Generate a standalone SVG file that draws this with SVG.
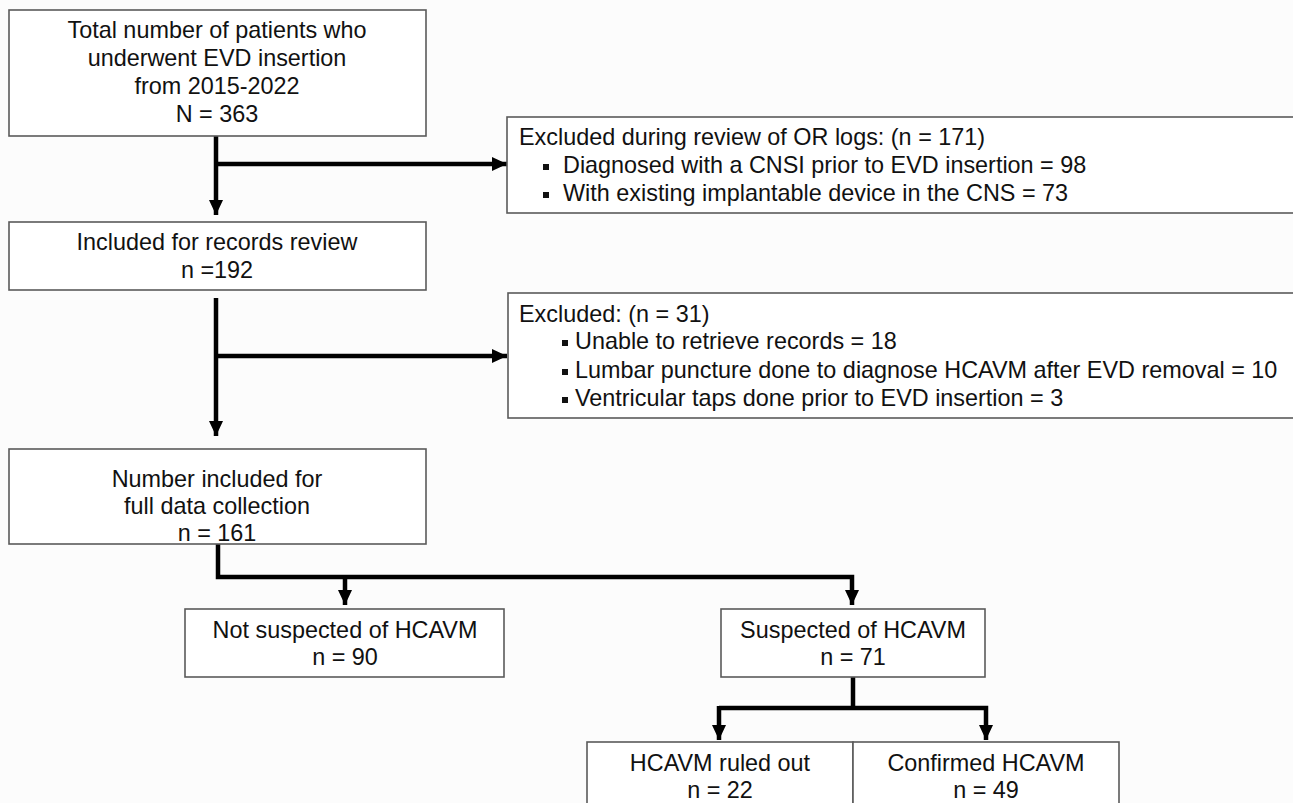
<svg xmlns="http://www.w3.org/2000/svg" width="1293" height="803" viewBox="0 0 1293 803">
  <style>
    .box { fill: #ffffff; stroke: #5a5a5a; stroke-width: 1.6; }
    .t { font-family: "Liberation Sans", Arial, sans-serif; font-size: 23.4px; fill: #111111; }
    .c { text-anchor: middle; }
    .con { fill: none; stroke: #000000; stroke-width: 4.5; }
    .bul { fill: #111111; }
  </style>
  <defs>
    <marker id="ah" markerUnits="userSpaceOnUse" markerWidth="16" markerHeight="14" refX="15" refY="7" orient="auto">
      <path d="M0,0 L15,7 L0,14 Z" fill="#000000"/>
    </marker>
  </defs>
  <rect x="0" y="0" width="1293" height="803" fill="#fcfcfc"/>

  <g id="connectors">
    <path class="con" d="M216 136 V215" marker-end="url(#ah)"/>
    <path class="con" d="M216 164 H507" marker-end="url(#ah)"/>
    <path class="con" d="M216 298 V436" marker-end="url(#ah)"/>
    <path class="con" d="M216 356 H507" marker-end="url(#ah)"/>
    <path class="con" d="M218 544 V577 H852 V605" marker-end="url(#ah)"/>
    <path class="con" d="M345 577 V605" marker-end="url(#ah)"/>
    <path class="con" d="M853 677 V708"/>
    <path class="con" d="M719 708 H986 V740" marker-end="url(#ah)"/>
    <path class="con" d="M719 706 V740" marker-end="url(#ah)"/>
  </g>

  <g id="total">
    <rect class="box" x="9" y="10" width="417" height="126"/>
    <text class="t c" x="217" y="38">Total number of patients who</text>
    <text class="t c" x="217" y="66">underwent EVD insertion</text>
    <text class="t c" x="217" y="94">from 2015-2022</text>
    <text class="t c" x="217" y="122">N = 363</text>
  </g>

  <g id="excluded-or">
    <rect class="box" x="507" y="117" width="800" height="96"/>
    <text class="t" x="519" y="145">Excluded during review of OR logs: (n = 171)</text>
    <rect class="bul" x="543" y="164" width="6" height="6"/>
    <text class="t" x="563" y="173">Diagnosed with a CNSI prior to EVD insertion = 98</text>
    <rect class="bul" x="543" y="192" width="6" height="6"/>
    <text class="t" x="563" y="201">With existing implantable device in the CNS = 73</text>
  </g>

  <g id="included">
    <rect class="box" x="9" y="222" width="417" height="68"/>
    <text class="t c" x="217" y="250">Included for records review</text>
    <text class="t c" x="217" y="278">n =192</text>
  </g>

  <g id="excluded-records">
    <rect class="box" x="508" y="293" width="800" height="125"/>
    <text class="t" x="519" y="322">Excluded: (n = 31)</text>
    <rect class="bul" x="562" y="340" width="6" height="6"/>
    <text class="t" x="575" y="349">Unable to retrieve records = 18</text>
    <rect class="bul" x="562" y="369" width="6" height="6"/>
    <text class="t" x="575" y="378">Lumbar puncture done to diagnose HCAVM after EVD removal = 10</text>
    <rect class="bul" x="562" y="397" width="6" height="6"/>
    <text class="t" x="575" y="406">Ventricular taps done prior to EVD insertion = 3</text>
  </g>

  <g id="full-data">
    <rect class="box" x="9" y="449" width="417" height="95"/>
    <text class="t c" x="217" y="487">Number included for</text>
    <text class="t c" x="217" y="514">full data collection</text>
    <text class="t c" x="217" y="541">n = 161</text>
  </g>

  <g id="not-suspected">
    <rect class="box" x="185" y="609" width="319" height="68"/>
    <text class="t c" x="345" y="638">Not suspected of HCAVM</text>
    <text class="t c" x="345" y="665">n = 90</text>
  </g>

  <g id="suspected">
    <rect class="box" x="721" y="609" width="264" height="68"/>
    <text class="t c" x="853" y="638">Suspected of HCAVM</text>
    <text class="t c" x="853" y="665">n = 71</text>
  </g>

  <g id="ruled-out">
    <rect class="box" x="587" y="742" width="266" height="90"/>
    <text class="t c" x="720" y="771">HCAVM ruled out</text>
    <text class="t c" x="720" y="798">n = 22</text>
  </g>

  <g id="confirmed">
    <rect class="box" x="853" y="742" width="266" height="90"/>
    <text class="t c" x="986" y="771">Confirmed HCAVM</text>
    <text class="t c" x="986" y="798">n = 49</text>
  </g>
</svg>
